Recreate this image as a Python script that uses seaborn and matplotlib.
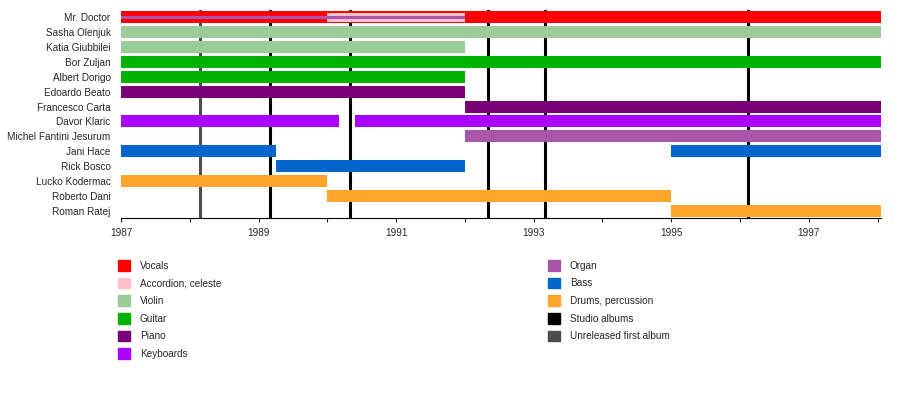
import pandas as pd
import matplotlib.pyplot as plt
import matplotlib.patches as mpatches
import seaborn as sns

# members in display order (top to bottom)
members = [
    'Mr. Doctor', 'Sasha Olenjuk', 'Katia Giubbilei', 'Bor Zuljan', 'Albert Dorigo',
    'Edoardo Beato', 'Francesco Carta', 'Davor Klaric', 'Michel Fantini Jesurum',
    'Jani Hace', 'Rick Bosco', 'Lucko Kodermac', 'Roberto Dani', 'Roman Ratej'
]

# role colours
roles = ['Vocals', 'Accordion, celeste', 'Violin', 'Guitar', 'Piano', 'Keyboards',
         'Organ', 'Bass', 'Drums, percussion']
role_colors = ['#ff0000', '#ffc0cb', '#99cc99', '#00b300', '#770077', '#aa00ff',
               '#aa55aa', '#0066cc', '#ffa52a']

# main periods: member, role, start, end
bar_member = ['Mr. Doctor', 'Sasha Olenjuk', 'Katia Giubbilei', 'Bor Zuljan', 'Albert Dorigo',
              'Edoardo Beato', 'Francesco Carta', 'Davor Klaric', 'Davor Klaric',
              'Michel Fantini Jesurum', 'Jani Hace', 'Jani Hace', 'Rick Bosco',
              'Lucko Kodermac', 'Roberto Dani', 'Roman Ratej']
bar_role = ['Vocals', 'Violin', 'Violin', 'Guitar', 'Guitar', 'Piano', 'Piano',
            'Keyboards', 'Keyboards', 'Organ', 'Bass', 'Bass', 'Bass',
            'Drums, percussion', 'Drums, percussion', 'Drums, percussion']
bar_start = [1987, 1987, 1987, 1987, 1987, 1987, 1992, 1987, 1990.4, 1992,
             1987, 1995, 1989.25, 1987, 1990, 1995]
bar_end = [1998.05, 1998.05, 1992, 1998.05, 1992, 1992, 1998.05, 1990.17, 1998.05, 1998.05,
           1989.25, 1998.05, 1992, 1990, 1995, 1998.05]

# secondary instruments (drawn thinner on top)
sec_member = ['Mr. Doctor', 'Mr. Doctor']
sec_role = ['Accordion, celeste', 'Organ']
sec_start = [1990, 1987]
sec_end = [1992, 1992]
sec_height = [0.6, 0.25]

# album release dates
studio_albums = [1989.16, 1990.33, 1992.33, 1993.16, 1996.11]
unreleased_album = [1988.15]

df = pd.DataFrame({'member': bar_member, 'role': bar_role,
                   'start': bar_start, 'end': bar_end})
sec = pd.DataFrame({'member': sec_member, 'role': sec_role, 'start': sec_start,
                    'end': sec_end, 'height': sec_height})

color_of = dict(zip(roles, role_colors))
row_of = {m: i for i, m in enumerate(members)}

sns.set_style("white")
plt.rcParams['font.family'] = ['Liberation Sans', 'DejaVu Sans']

fig = plt.figure(figsize=(9, 3.98), dpi=100)
ax = fig.add_axes([121 / 900, 1 - 218 / 398, 760 / 900, 208 / 398])

for _, r in df.iterrows():
    ax.barh(row_of[r['member']], r['end'] - r['start'], left=r['start'], height=0.8,
            color=color_of[r['role']], linewidth=0, zorder=2)

for _, r in sec.iterrows():
    ax.barh(row_of[r['member']], r['end'] - r['start'], left=r['start'], height=r['height'],
            color=color_of[r['role']], linewidth=0, zorder=3)

for x in studio_albums:
    ax.axvline(x, color='black', linewidth=2.2, zorder=1)
for x in unreleased_album:
    ax.axvline(x, color='#4d4d4d', linewidth=2.2, zorder=1)

ax.set_xlim(1987, 1998.05)
ax.set_ylim(len(members) - 0.5, -0.5)
ax.set_yticks(range(len(members)))
ax.set_yticklabels(members, fontsize=7.2)
ax.set_xticks([1987, 1989, 1991, 1993, 1995, 1997])
ax.set_xticks(range(1988, 1999, 2), minor=True)
ax.tick_params(axis='x', which='major', labelsize=7.2, length=3, width=0.8, direction='out', bottom=True, pad=4)
ax.tick_params(axis='x', which='minor', length=3, width=0.8, direction='out', bottom=True)
ax.tick_params(axis='y', length=0, pad=7.5)

for side in ['left', 'right', 'top']:
    ax.spines[side].set_visible(False)
ax.spines['bottom'].set_color('black')
ax.spines['bottom'].set_linewidth(0.8)
ax.grid(False)

# legend, two columns
legend_labels = roles + ['Studio albums', 'Unreleased first album']
legend_colors = role_colors + ['#000000', '#4d4d4d']
handles = [mpatches.Patch(color=c, label=l) for l, c in zip(legend_labels, legend_colors)]

kw = dict(frameon=False, fontsize=7.2, handlelength=1.2, handleheight=1.25,
          handletextpad=1.0, labelspacing=0.7, borderpad=0, borderaxespad=0, loc='upper left')
fig.legend(handles=handles[:6], bbox_to_anchor=(118 / 900, 1 - 260 / 398), **kw)
fig.legend(handles=handles[6:], bbox_to_anchor=(548 / 900, 1 - 260 / 398), **kw)

plt.savefig('out.png', dpi=100)
